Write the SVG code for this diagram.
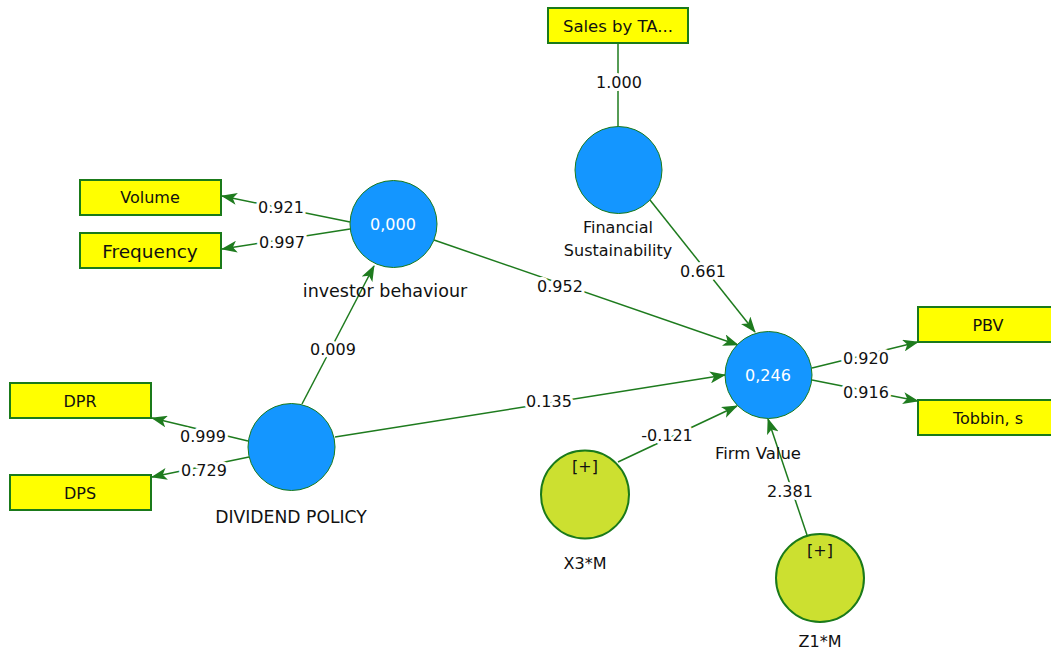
<svg xmlns="http://www.w3.org/2000/svg" width="1051" height="651" viewBox="0 0 1051 651">
<style>
.lv{fill:#1496FF;stroke:#1a7a1a;stroke-width:1}
.mod{fill:#CCE030;stroke:#1a7a1a;stroke-width:2}
.box{fill:#FFFF00;stroke:#1a7a1a;stroke-width:2}
.t{font-family:"DejaVu Sans",Verdana,sans-serif;font-size:16px;fill:#111;text-anchor:middle}
.w{fill:#fff}
.c{stroke:#1e7b1e;stroke-width:1.5;fill:none}
.lab{font-family:"DejaVu Sans",Verdana,sans-serif;font-size:16px;fill:#111;text-anchor:middle;stroke:#fff;stroke-width:6;paint-order:stroke;stroke-linejoin:round}
</style>
<defs>
<marker id="ah" markerUnits="userSpaceOnUse" markerWidth="16" markerHeight="12" refX="15" refY="6" orient="auto">
<path d="M0,0 L16,6 L0,12 L4,6 Z" fill="#1e7b1e"/>
</marker>
</defs>
<rect width="1051" height="651" fill="#fff"/>
<g id="connectors">
<line class="c" x1="618" y1="43" x2="618" y2="127"/>
<text class="lab" x="619" y="88">1.000</text>
<line class="c" x1="350" y1="222" x2="222" y2="196" marker-end="url(#ah)"/>
<text class="lab" x="281" y="213">0.921</text>
<line class="c" x1="350" y1="229" x2="222" y2="249" marker-end="url(#ah)"/>
<text class="lab" x="282" y="248">0.997</text>
<line class="c" x1="248" y1="441" x2="152" y2="418" marker-end="url(#ah)"/>
<text class="lab" x="203" y="442">0.999</text>
<line class="c" x1="249" y1="457" x2="152" y2="477" marker-end="url(#ah)"/>
<text class="lab" x="204" y="476">0.729</text>
<line class="c" x1="302" y1="404" x2="374" y2="266" marker-end="url(#ah)"/>
<text class="lab" x="333" y="355">0.009</text>
<line class="c" x1="335" y1="437" x2="725" y2="375" marker-end="url(#ah)"/>
<text class="lab" x="549" y="407">0.135</text>
<line class="c" x1="434" y1="240" x2="738" y2="345" marker-end="url(#ah)"/>
<text class="lab" x="560" y="292">0.952</text>
<line class="c" x1="650" y1="200" x2="755" y2="332" marker-end="url(#ah)"/>
<text class="lab" x="703" y="277">0.661</text>
<line class="c" x1="812" y1="368" x2="918" y2="342" marker-end="url(#ah)"/>
<text class="lab" x="866" y="364">0.920</text>
<line class="c" x1="812" y1="380" x2="918" y2="401" marker-end="url(#ah)"/>
<text class="lab" x="866" y="398">0.916</text>
<line class="c" x1="618" y1="462" x2="737" y2="406" marker-end="url(#ah)"/>
<text class="lab" x="667" y="441">-0.121</text>
<line class="c" x1="807" y1="535" x2="768" y2="419" marker-end="url(#ah)"/>
<text class="lab" x="790" y="497">2.381</text>
</g>
<g id="sales"><rect class="box" x="548" y="8" width="140" height="35"/><text class="t" x="618" y="32" style="font-size:16.5px">Sales by TA...</text></g>
<g id="volume"><rect class="box" x="80" y="180" width="141" height="35"/><text class="t" x="150" y="203">Volume</text></g>
<g id="frequency"><rect class="box" x="80" y="233" width="141" height="35"/><text class="t" x="150" y="258" style="font-size:18.5px">Frequency</text></g>
<g id="dpr"><rect class="box" x="10" y="383" width="141" height="35"/><text class="t" x="80" y="407">DPR</text></g>
<g id="dps"><rect class="box" x="10" y="475" width="141" height="35"/><text class="t" x="80" y="499">DPS</text></g>
<g id="pbv"><rect class="box" x="918" y="307" width="141" height="35"/><text class="t" x="988" y="331">PBV</text></g>
<g id="tobbin"><rect class="box" x="918" y="400" width="141" height="35"/><text class="t" x="988" y="424">Tobbin, s</text></g>
<g id="fs"><circle class="lv" cx="618.5" cy="170" r="43.5"/><text class="t" x="618" y="233">Financial</text><text class="t" x="618" y="256">Sustainability</text></g>
<g id="ib"><circle class="lv" cx="393.5" cy="224" r="43.5"/><text class="t w" x="393" y="230">0,000</text><text class="t" x="385" y="297" style="font-size:17.5px">investor behaviour</text></g>
<g id="dp"><circle class="lv" cx="291.5" cy="447" r="43.5"/><text class="t" x="291" y="523" style="font-size:17.2px">DIVIDEND POLICY</text></g>
<g id="fv"><circle class="lv" cx="768.5" cy="375" r="43.5"/><text class="t w" x="768" y="381">0,246</text><text class="t" x="758" y="459" style="font-size:16.5px">Firm Value</text></g>
<g id="x3m"><circle class="mod" cx="585" cy="494.5" r="44"/><text class="t" x="585" y="472">[+]</text><text class="t" x="585" y="569">X3*M</text></g>
<g id="z1m"><circle class="mod" cx="820" cy="578" r="44"/><text class="t" x="820" y="556">[+]</text><text class="t" x="820" y="647">Z1*M</text></g>
</svg>
